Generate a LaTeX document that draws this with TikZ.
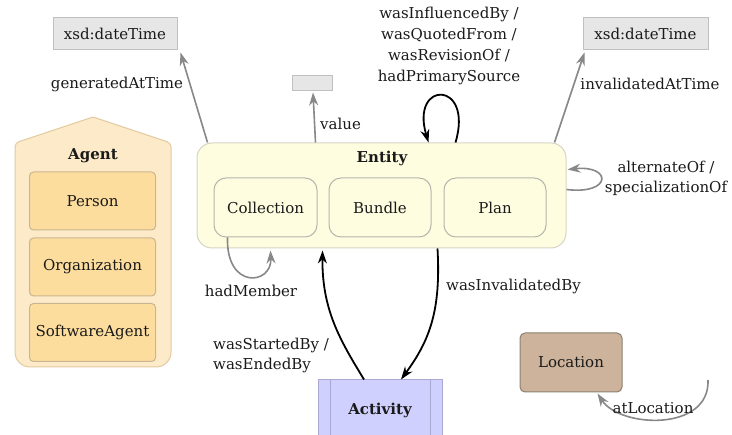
\documentclass[tikz,border=0pt]{standalone}
\usepackage{fontspec}
\setmainfont{DejaVu Serif}
\usetikzlibrary{arrows.meta,calc}
\definecolor{agentout}{HTML}{FDEAC8}
\definecolor{agentoutline}{HTML}{E3CBA0}
\definecolor{agentin}{HTML}{FDDD9E}
\definecolor{agentinline}{HTML}{C9B690}
\definecolor{entfill}{HTML}{FFFDE0}
\definecolor{entline}{HTML}{D5D5C5}
\definecolor{subline}{HTML}{B5B5AD}
\definecolor{actfill}{HTML}{D0D0FF}
\definecolor{actline}{HTML}{A8A8D0}
\definecolor{locfill}{HTML}{CDB39B}
\definecolor{locline}{HTML}{8C8070}
\definecolor{dtfill}{HTML}{E6E6E6}
\definecolor{dtline}{HTML}{C0C0C0}
\definecolor{arrgray}{HTML}{888888}
\definecolor{txt}{HTML}{1A1A1A}
\tikzset{
  base/.style={inner sep=0pt, text=txt},
  dtbox/.style={base, draw=dtline, fill=dtfill, line width=1pt},
  agentbox/.style={base, draw=agentinline, fill=agentin, line width=1pt, rounded corners=4pt, minimum width=126pt, minimum height=58pt},
  subbox/.style={base, draw=subline, fill=entfill, line width=1pt, rounded corners=12pt, minimum height=59pt},
  lbl/.style={base, align=center},
  grayarrow/.style={draw=arrgray, line width=1.6pt, -{Stealth[length=13pt,width=9pt]}},
  blackarrow/.style={draw=black, line width=1.8pt, -{Stealth[length=13pt,width=9pt]}},
  boldlbl/.style={base, font=\fontsize{15}{20}\selectfont\bfseries},
}
\begin{document}
\begin{tikzpicture}[x=1pt,y=-1pt,font=\fontsize{15}{20}\selectfont]
\useasboundingbox (0,0) rectangle (732,435);
\clip (0,0) rectangle (732,435);
\fill[white] (0,0) rectangle (732,435);

% Agent house
\draw[draw=agentoutline, fill=agentout, line width=1pt, rounded corners=4pt]
  (15,143) [rounded corners=1pt] -- (93,117) [rounded corners=4pt] -- (171,143) [rounded corners=15pt] -- (171,367) -- (15,367) [rounded corners=4pt] -- cycle;
\node[boldlbl] (agent) at (93,156) {Agent};
\node[agentbox] (person) at (92.5,201) {Person};
\node[agentbox] (org) at (92.5,267) {Organization};
\node[agentbox] (sw) at (92.5,332.5) {SoftwareAgent};

% Entity
\node[base, draw=entline, fill=entfill, line width=1pt, rounded corners=15pt, minimum width=369pt, minimum height=105pt] (entity) at (381.5,195.5) {};
\node[boldlbl] (entlbl) at (382,158) {Entity};
\node[subbox, minimum width=103pt] (coll) at (265.5,207.5) {Collection};
\node[subbox, minimum width=102pt] (bundle) at (380,207.5) {Bundle};
\node[subbox, minimum width=102pt] (plan) at (495,207.5) {Plan};

% literal boxes
\node[dtbox, minimum width=124pt, minimum height=32pt] (dt1) at (115,34) {xsd:dateTime};
\node[dtbox, minimum width=125pt, minimum height=32pt] (dt2) at (645.5,34) {xsd:dateTime};
\node[dtbox, minimum width=40pt, minimum height=15pt] (val) at (312,83.5) {};

% Activity
\node[boldlbl, draw=actline, fill=actfill, line width=1pt, minimum width=124pt, minimum height=60pt] (act) at (380,410) {Activity};
\draw[actline, line width=1pt] ([xshift=13pt]act.north west) -- ([xshift=13pt]act.south west);
\draw[actline, line width=1pt] ([xshift=-12pt]act.north east) -- ([xshift=-12pt]act.south east);

% Location
\node[base, draw=locline, fill=locfill, line width=1pt, rounded corners=5pt, minimum width=102pt, minimum height=59pt] (loc) at (571,362.5) {Location};
\coordinate (locsrc) at (708,380);

% connectors
\draw[grayarrow] ([xshift=11pt]entity.north west) -- ([xshift=3pt,yshift=-2pt]dt1.south east);
\draw[grayarrow] ([xshift=119pt]entity.north west) -- ([xshift=1pt,yshift=-1pt]val.south);
\draw[grayarrow] ([xshift=-12pt]entity.north east) -- ([xshift=2pt,yshift=-2pt]dt2.south west);
\draw[blackarrow] ([xshift=259pt]entity.north west) .. controls (474,80) and (410,80) .. ([xshift=232pt]entity.north west);
\draw[grayarrow] ([yshift=-47pt]entity.north east) .. controls (612,195) and (612,165) .. ([yshift=-27pt,xshift=1pt]entity.north east);
\draw[grayarrow] ([xshift=14pt]coll.south west) .. controls (226,290) and (272,285) .. ([xshift=74pt,yshift=-2pt]entity.south west);
\draw[blackarrow] ([xshift=-16pt]act.north) .. controls (340,340) and (322,310) .. ([xshift=126pt,yshift=-2pt]entity.south west);
\draw[blackarrow] ([xshift=241pt]entity.south west) .. controls (441,310) and (430,340) .. ([xshift=21pt]act.north);
\draw[grayarrow] (locsrc) .. controls (710,432) and (620,428) .. ([xshift=78pt,yshift=-1pt]loc.south west);

% labels
\node[lbl] (l1) at (117,84) {generatedAtTime};
\node[lbl, anchor=west] (l2) at (320,124) {value};
\node[lbl, font=\fontsize{15}{20.7}\selectfont] (l3) at (449,46) {wasInfluencedBy /\\wasQuotedFrom /\\wasRevisionOf /\\hadPrimarySource};
\node[lbl] (l4) at (650,84) {invalidatedAtTime};
\node[lbl] (l5) at (666,178) {alternateOf /\\specializationOf};
\node[lbl] (l6) at (251,291) {hadMember};
\node[lbl, anchor=west, align=left] (l7) at (213,355) {wasStartedBy /\\wasEndedBy};
\node[lbl, anchor=west] (l8) at (446,286) {wasInvalidatedBy};
\node[lbl] (l9) at (653,408) {atLocation};
\end{tikzpicture}
\end{document}
